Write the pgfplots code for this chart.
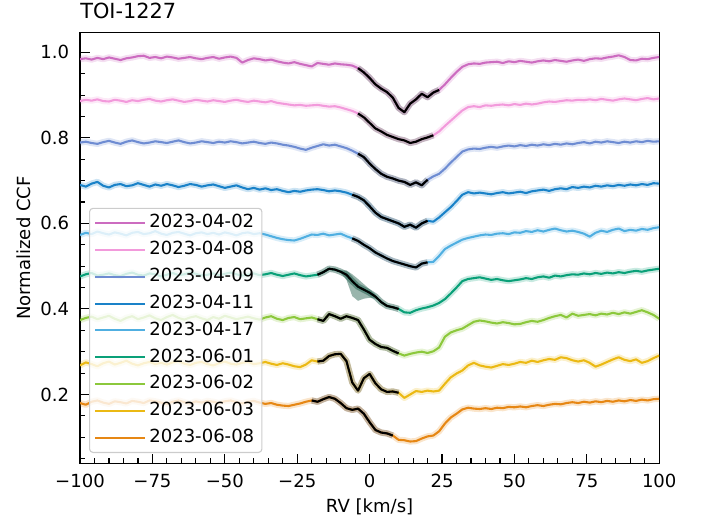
\documentclass[border=0pt]{standalone}
\usepackage{fontspec}
\setmainfont{DejaVu Sans}
\usepackage{pgfplots}
\usepackage{pgfplotstable}
\pgfplotsset{compat=1.18}

\definecolor{cA}{RGB}{204,108,192}
\definecolor{cB}{RGB}{242,154,219}
\definecolor{cC}{RGB}{110,140,210}
\definecolor{cD}{RGB}{26,130,200}
\definecolor{cE}{RGB}{80,175,225}
\definecolor{cF}{RGB}{10,160,120}
\definecolor{cG}{RGB}{140,200,60}
\definecolor{cH}{RGB}{235,185,20}
\definecolor{cI}{RGB}{230,135,20}
\definecolor{bandF}{RGB}{135,168,158}
\definecolor{legframe}{RGB}{204,204,204}

% normalized CCF per night, columns A..I = 2023-04-02 ... 2023-06-08 (already offset)
\pgfplotstableread{
x A B C D E F G H I
-100 0.984 0.886 0.789 0.690 0.573 0.476 0.374 0.268 0.180
-98 0.986 0.889 0.791 0.686 0.578 0.481 0.379 0.275 0.176
-96 0.983 0.887 0.788 0.693 0.575 0.484 0.382 0.271 0.183
-94 0.987 0.890 0.786 0.697 0.581 0.478 0.376 0.266 0.186
-92 0.984 0.886 0.790 0.688 0.577 0.480 0.380 0.273 0.181
-90 0.988 0.885 0.793 0.684 0.574 0.483 0.384 0.277 0.178
-88 0.985 0.889 0.789 0.690 0.579 0.479 0.377 0.270 0.184
-86 0.982 0.887 0.786 0.692 0.576 0.477 0.372 0.274 0.182
-84 0.986 0.884 0.791 0.687 0.572 0.482 0.379 0.279 0.179
-82 0.988 0.888 0.794 0.689 0.578 0.485 0.383 0.272 0.185
-80 0.991 0.886 0.790 0.694 0.580 0.480 0.376 0.268 0.183
-78 0.992 0.889 0.787 0.690 0.575 0.478 0.380 0.273 0.180
-76 0.987 0.891 0.789 0.686 0.577 0.483 0.385 0.276 0.186
-74 0.989 0.887 0.792 0.691 0.582 0.481 0.378 0.271 0.184
-72 0.986 0.885 0.790 0.688 0.576 0.476 0.374 0.274 0.181
-70 0.990 0.888 0.788 0.692 0.573 0.480 0.381 0.270 0.178
-68 0.988 0.890 0.791 0.689 0.578 0.484 0.386 0.275 0.183
-66 0.985 0.887 0.794 0.685 0.580 0.479 0.379 0.278 0.186
-64 0.987 0.884 0.790 0.688 0.576 0.481 0.375 0.272 0.182
-62 0.989 0.886 0.787 0.692 0.572 0.485 0.380 0.269 0.179
-60 0.986 0.889 0.789 0.690 0.577 0.482 0.383 0.274 0.184
-58 0.984 0.887 0.792 0.686 0.579 0.478 0.378 0.276 0.181
-56 0.987 0.885 0.790 0.689 0.575 0.480 0.374 0.271 0.185
-54 0.989 0.888 0.788 0.691 0.578 0.483 0.381 0.268 0.183
-52 0.985 0.886 0.791 0.687 0.574 0.479 0.377 0.273 0.180
-50 0.988 0.884 0.789 0.683 0.579 0.482 0.384 0.277 0.184
-48 0.990 0.887 0.792 0.686 0.576 0.485 0.380 0.272 0.186
-46 0.987 0.889 0.790 0.689 0.572 0.481 0.376 0.270 0.182
-44 0.976 0.886 0.787 0.684 0.577 0.478 0.379 0.274 0.179
-42 0.982 0.884 0.789 0.680 0.579 0.480 0.382 0.276 0.183
-40 0.986 0.887 0.791 0.683 0.575 0.483 0.378 0.271 0.185
-38 0.984 0.885 0.788 0.679 0.577 0.479 0.375 0.273 0.181
-36 0.981 0.883 0.786 0.682 0.574 0.481 0.380 0.276 0.178
-34 0.983 0.886 0.789 0.678 0.570 0.484 0.383 0.272 0.180
-32 0.979 0.882 0.787 0.680 0.566 0.480 0.377 0.269 0.176
-30 0.976 0.880 0.784 0.676 0.563 0.477 0.374 0.273 0.174
-28 0.974 0.878 0.782 0.673 0.561 0.480 0.379 0.270 0.173
-26 0.977 0.876 0.779 0.676 0.560 0.483 0.381 0.266 0.176
-24 0.973 0.877 0.775 0.674 0.564 0.479 0.376 0.264 0.179
-22 0.970 0.875 0.772 0.677 0.569 0.476 0.378 0.270 0.183
-20 0.967 0.876 0.777 0.679 0.574 0.478 0.380 0.280 0.186
-18 0.975 0.877 0.781 0.680 0.573 0.480 0.376 0.277 0.183
-16 0.973 0.875 0.785 0.678 0.576 0.486 0.372 0.279 0.189
-14 0.971 0.873 0.782 0.675 0.572 0.494 0.388 0.290 0.194
-12 0.974 0.874 0.784 0.677 0.574 0.492 0.383 0.294 0.190
-10 0.972 0.871 0.780 0.675 0.576 0.487 0.377 0.295 0.180
-8 0.971 0.867 0.776 0.672 0.570 0.480 0.383 0.278 0.168
-6 0.969 0.863 0.770 0.667 0.565 0.465 0.379 0.228 0.164
-4 0.963 0.857 0.763 0.662 0.559 0.452 0.374 0.209 0.167
-2 0.953 0.848 0.755 0.654 0.550 0.445 0.352 0.238 0.155
0 0.940 0.835 0.740 0.640 0.542 0.438 0.328 0.248 0.135
2 0.925 0.822 0.727 0.625 0.532 0.429 0.318 0.226 0.117
4 0.915 0.815 0.716 0.615 0.525 0.416 0.311 0.212 0.111
6 0.907 0.807 0.709 0.610 0.518 0.407 0.309 0.206 0.109
8 0.894 0.802 0.705 0.605 0.512 0.404 0.302 0.207 0.104
10 0.870 0.797 0.700 0.600 0.508 0.400 0.296 0.204 0.094
12 0.860 0.794 0.697 0.592 0.504 0.392 0.291 0.192 0.093
14 0.880 0.788 0.690 0.597 0.500 0.391 0.295 0.200 0.090
16 0.890 0.791 0.696 0.590 0.497 0.397 0.298 0.208 0.091
18 0.903 0.797 0.689 0.600 0.506 0.401 0.300 0.206 0.097
20 0.895 0.801 0.702 0.606 0.509 0.404 0.297 0.209 0.102
22 0.906 0.806 0.710 0.604 0.510 0.408 0.301 0.207 0.104
24 0.912 0.815 0.716 0.614 0.524 0.414 0.310 0.209 0.114
26 0.925 0.828 0.728 0.626 0.540 0.423 0.335 0.225 0.132
28 0.940 0.840 0.742 0.638 0.548 0.436 0.345 0.240 0.146
30 0.954 0.852 0.755 0.652 0.555 0.450 0.350 0.249 0.155
32 0.966 0.864 0.768 0.667 0.562 0.465 0.354 0.256 0.165
34 0.972 0.872 0.773 0.673 0.566 0.470 0.362 0.268 0.169
36 0.974 0.874 0.775 0.670 0.569 0.472 0.370 0.274 0.167
38 0.973 0.872 0.774 0.672 0.572 0.474 0.373 0.268 0.166
40 0.976 0.876 0.777 0.670 0.574 0.471 0.371 0.265 0.168
42 0.977 0.875 0.779 0.668 0.573 0.468 0.368 0.263 0.166
44 0.978 0.877 0.777 0.671 0.576 0.470 0.366 0.267 0.169
46 0.975 0.878 0.780 0.673 0.577 0.467 0.369 0.271 0.168
48 0.979 0.876 0.782 0.670 0.575 0.465 0.367 0.269 0.171
50 0.977 0.879 0.780 0.672 0.579 0.467 0.364 0.272 0.170
52 0.980 0.877 0.783 0.674 0.578 0.469 0.365 0.276 0.172
54 0.978 0.880 0.781 0.671 0.582 0.472 0.369 0.274 0.170
56 0.976 0.878 0.784 0.675 0.580 0.470 0.372 0.279 0.173
58 0.979 0.880 0.782 0.677 0.584 0.474 0.370 0.276 0.175
60 0.981 0.883 0.785 0.679 0.581 0.476 0.374 0.280 0.173
62 0.979 0.885 0.783 0.676 0.585 0.473 0.379 0.283 0.176
64 0.982 0.884 0.786 0.680 0.588 0.478 0.383 0.281 0.178
66 0.980 0.886 0.784 0.682 0.584 0.476 0.386 0.287 0.177
68 0.978 0.888 0.787 0.680 0.581 0.479 0.380 0.285 0.180
70 0.981 0.887 0.785 0.685 0.583 0.481 0.389 0.280 0.182
72 0.983 0.889 0.788 0.683 0.580 0.480 0.384 0.277 0.180
74 0.980 0.888 0.790 0.686 0.576 0.483 0.386 0.280 0.183
76 0.984 0.890 0.787 0.684 0.569 0.481 0.388 0.274 0.181
78 0.986 0.888 0.791 0.688 0.578 0.484 0.385 0.265 0.184
80 0.985 0.891 0.789 0.686 0.583 0.482 0.389 0.270 0.182
82 0.988 0.889 0.792 0.689 0.580 0.485 0.387 0.276 0.185
84 0.990 0.887 0.790 0.687 0.585 0.483 0.391 0.282 0.183
86 0.993 0.890 0.788 0.690 0.588 0.486 0.388 0.287 0.186
88 0.989 0.892 0.791 0.688 0.582 0.484 0.392 0.281 0.184
90 0.982 0.890 0.789 0.691 0.585 0.487 0.389 0.278 0.187
92 0.981 0.888 0.792 0.689 0.583 0.489 0.393 0.282 0.185
94 0.985 0.891 0.790 0.692 0.587 0.487 0.397 0.274 0.188
96 0.984 0.893 0.793 0.690 0.585 0.490 0.392 0.278 0.186
98 0.987 0.890 0.791 0.694 0.589 0.492 0.386 0.285 0.189
100 0.989 0.892 0.792 0.693 0.591 0.494 0.377 0.291 0.190
}\ccf

% #1 column, #2 colour, #3 in-transit range drawn in black
\newcommand{\ccfline}[3]{%
  \addplot[#2, line width=4.5pt, opacity=0.22, line join=round, forget plot] table[x=x, y=#1] {\ccf};
  \addplot[#2, line width=1.5pt, line join=round] table[x=x, y=#1] {\ccf};
  \addplot[black, line width=4.5pt, opacity=0.22, line join=round, forget plot, restrict x to domain=#3] table[x=x, y=#1] {\ccf};
  \addplot[black, line width=1.5pt, line join=round, forget plot, restrict x to domain=#3] table[x=x, y=#1] {\ccf};
}

\begin{document}
\begin{tikzpicture}
\useasboundingbox (-57.6pt,-40.8pt) rectangle (448.4pt,333.5pt);
\begin{axis}[
    at={(0,0)}, anchor=south west,
    scale only axis,
    width=416.9pt, height=310pt,
    xmin=-100, xmax=100,
    ymin=0.039, ymax=1.046,
    xtick={-100,-75,-50,-25,0,25,50,75,100},
    xticklabels={−100,−75,−50,−25,0,25,50,75,100},
    minor x tick num=4,
    ytick={0.2,0.4,0.6,0.8,1.0},
    minor ytick={0.05,0.1,0.15,0.25,0.3,0.35,0.45,0.5,0.55,0.65,0.7,0.75,0.85,0.9,0.95},
    tick align=inside,
    xtick pos=bottom, ytick pos=left,
    major tick length=7pt, minor tick length=3.6pt,
    every tick/.style={black, line width=0.8pt},
    axis line style={line width=0.9pt},
    /pgf/number format/assume math mode=true,
    yticklabel style={/pgf/number format/fixed, /pgf/number format/fixed zerofill, /pgf/number format/precision=1, xshift=-4.3pt},
    tick label style={font=\fontsize{13}{15}\selectfont},
    xticklabel style={yshift=-4.5pt},
    xlabel={RV [km/s]},
    ylabel={Normalized CCF},
    label style={font=\fontsize{13}{15}\selectfont},
    xlabel style={at={(axis description cs:0.5,-0.1)}, anchor=center},
    ylabel style={at={(axis description cs:-0.097,0.5)}, anchor=center},
    title={TOI-1227},
    title style={at={(axis description cs:0,1)}, anchor=base west, yshift=4pt, inner sep=0pt, font=\fontsize{15}{18}\selectfont},
    legend style={at={(axis description cs:0.0155,0.024)}, anchor=south west,
        draw=legframe, line width=0.8pt, rounded corners=2.5pt,
        fill=white, fill opacity=0.8, text opacity=1,
        font=\fontsize{13}{15}\selectfont, inner xsep=3.5pt, inner ysep=1pt, row sep=0pt,
        nodes={inner ysep=3.15pt, text height=10pt, text depth=3pt}},
    legend cell align=left,
    legend image code/.code={\path (0pt,0pt) -- (36pt,0pt); \draw[#1, opacity=1] (3pt,0pt) -- (30pt,0pt);},
]
\ccfline{A}{cA}{-4:24}
\ccfline{B}{cB}{-4:22}
\ccfline{C}{cC}{-4:21}
\ccfline{D}{cD}{-6:20}
\ccfline{E}{cE}{-6:20}
\addplot[fill=bandF, draw=none, fill opacity=0.85, forget plot] coordinates {
  (-10,0.490) (-8,0.490) (-6,0.481) (-4,0.470) (-2,0.458) (0,0.446) (2,0.434)
  (2,0.424) (0,0.426) (-2,0.424) (-4,0.419) (-6,0.430) (-8,0.468) (-10,0.484)} -- cycle;
\ccfline{F}{cF}{-18:10}
\ccfline{G}{cG}{-18:10}
\ccfline{H}{cH}{-18:10}
\ccfline{I}{cI}{-20:8}
\legend{2023-04-02,2023-04-08,2023-04-09,2023-04-11,2023-04-17,2023-06-01,2023-06-02,2023-06-03,2023-06-08}
\end{axis}
\end{tikzpicture}
\end{document}
